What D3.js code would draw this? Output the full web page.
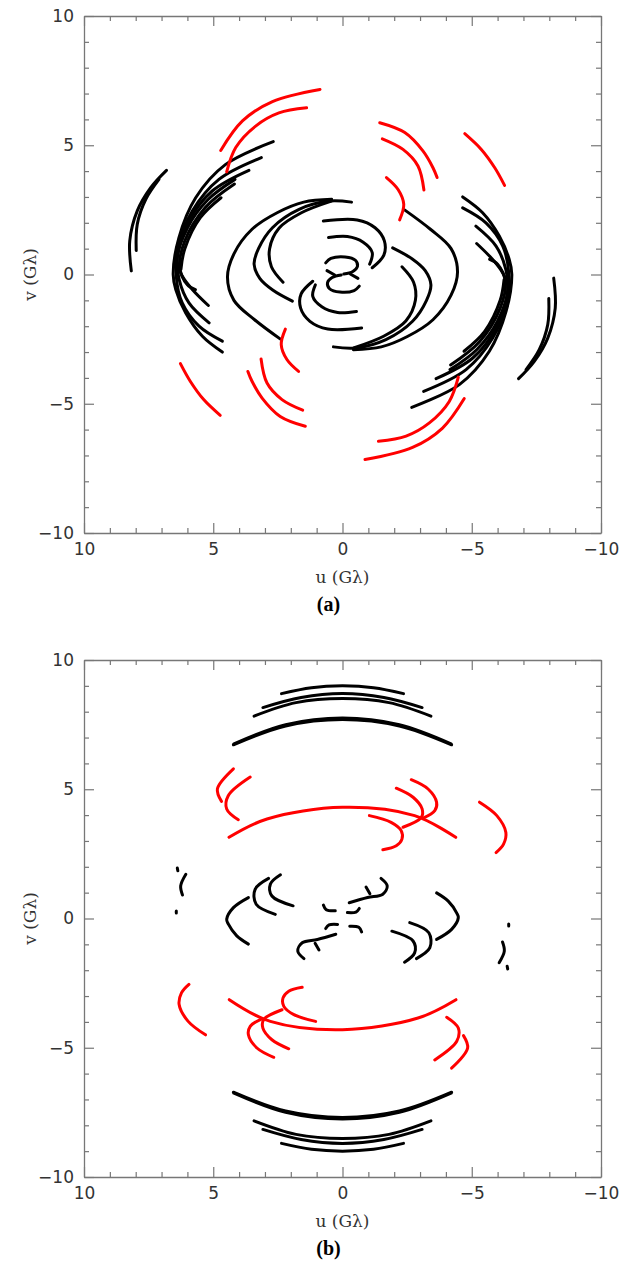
<!DOCTYPE html>
<html>
<head>
<meta charset="utf-8">
<script src="https://cdn.jsdelivr.net/npm/d3@7"></script>
<style>
  body { margin: 0; background: #fff; }
  svg { display: block; }
</style>
</head>
<body>
<script>
// uv tracks, in G-lambda. Each track is drawn together with its conjugate (-u,-v).
const majorTicks = [10, 5, 0, -5, -10];
const minorTicks = [9, 8, 7, 6, 4, 3, 2, 1, -1, -2, -3, -4, -6, -7, -8, -9];

// panel (a)
const aBlack = [
  [[8.17, 0.14], [8.23, 1.30], [7.94, 2.46], [7.42, 3.36], [6.81, 4.03]],
  [[7.98, 0.93], [7.94, 1.94], [7.61, 2.91], [7.10, 3.68]],
  [[2.68, 5.14], [4.52, 4.26], [5.68, 2.97], [6.33, 1.42], [6.55, 0.0], [6.45, -0.58], [6.07, -1.48], [5.42, -2.39], [4.65, -3.00]],
  [[3.14, 4.52], [4.78, 3.68], [5.81, 2.46], [6.33, 1.17], [6.43, -0.06], [6.20, -1.10], [5.55, -2.00], [4.65, -2.58]],
  [[3.62, 4.03], [5.04, 3.23], [5.94, 2.07], [6.39, 0.65], [6.32, -0.19], [5.94, -1.10], [5.16, -1.87]],
  [[4.16, 3.68], [5.20, 2.90], [6.00, 1.80], [6.40, 0.50], [6.20, -0.06], [5.81, -0.58], [5.19, -1.20]],
  [[4.18, 3.50], [5.30, 2.60], [6.10, 1.30], [6.30, 0.30], [6.00, -0.40], [5.69, -0.59]],
  [[4.70, 2.97], [5.50, 2.20], [6.10, 1.00], [6.25, 0.20]],
  [[0.42, 2.91], [1.50, 2.80], [2.51, 2.40], [3.50, 1.75], [4.20, 0.80], [4.45, -0.10], [4.20, -1.00], [3.40, -1.75], [2.40, -2.50]],
  [[-0.35, 2.80], [0.52, 2.84], [1.68, 2.52], [2.71, 1.81], [3.25, 1.00], [3.42, 0.40], [3.20, -0.15], [2.70, -0.60], [1.94, -1.03]],
  [[0.43, 2.84], [1.59, 2.39], [2.45, 1.80], [2.82, 1.00], [2.75, 0.30], [2.30, -0.30]],
  [[0.74, 2.07], [-0.57, 2.11], [-1.26, 1.81], [-1.62, 1.30], [-1.60, 0.75], [-1.15, 0.26]],
  [[0.54, 1.43], [-0.19, 1.47], [-0.80, 1.25], [-1.15, 0.85], [-1.05, 0.40]],
  [[0.65, 0.45], [0.45, 0.62], [-0.10, 0.68], [-0.50, 0.55], [-0.58, 0.32], [-0.40, 0.12], [-0.05, 0.02]],
  [[0.60, 0.15], [0.30, -0.02]]
];
const aRed = [
  [[4.71, 4.80], [3.87, 5.94], [2.71, 6.69], [0.87, 7.16]],
  [[4.48, 3.97], [4.13, 4.91], [3.36, 5.74], [2.46, 6.25], [1.39, 6.45]],
  [[-1.44, 5.87], [-2.41, 5.49], [-3.11, 4.78], [-3.50, 4.13], [-3.66, 3.75]],
  [[-1.54, 5.25], [-2.34, 4.84], [-2.92, 4.20], [-3.15, 3.27]],
  [[-1.70, 3.75], [-2.15, 3.29], [-2.37, 2.71], [-2.21, 2.11]],
  [[-4.73, 5.45], [-5.37, 4.84], [-5.89, 4.13], [-6.27, 3.45]]
];

// panel (b)
const bBlack = [
  [[2.36, 8.70], [1.20, 8.93], [0.0, 9.00], [-1.20, 8.93], [-2.36, 8.70]],
  [[3.08, 8.16], [1.60, 8.55], [0.0, 8.70], [-1.60, 8.55], [-3.08, 8.16]],
  [[3.42, 7.83], [1.80, 8.35], [0.0, 8.51], [-1.80, 8.35], [-3.42, 7.83]],
  [[4.22, 6.72], [2.20, 7.45], [0.0, 7.70], [-2.20, 7.45], [-4.22, 6.72]],
  [[4.20, 6.76], [2.20, 7.50], [0.0, 7.76], [-2.20, 7.50], [-4.20, 6.76]],
  [[6.39, 1.95], [6.37, 1.85]],
  [[6.06, 1.71], [6.26, 1.26], [6.19, 0.91]],
  [[6.43, 0.29], [6.43, 0.21]],
  [[2.40, 1.69], [2.79, 1.33], [2.73, 0.87], [1.91, 0.49]],
  [[2.86, 1.55], [3.38, 1.13], [3.34, 0.55], [2.60, 0.16]],
  [[3.64, 0.81], [4.22, 0.42], [4.48, -0.03], [4.42, -0.21], [4.09, -0.67], [3.64, -0.99]],
  [[-1.49, 1.55], [-1.73, 1.26], [-1.56, 0.94], [-0.97, 0.81], [-0.26, 0.61]],
  [[-0.91, 1.22], [-1.06, 0.96]],
  [[0.74, 0.52], [0.63, 0.34], [0.28, 0.30]],
  [[-0.19, 0.23], [-0.52, 0.25], [-0.65, 0.39]]
];
const bRed = [
  [[4.39, 3.14], [2.92, 3.85], [0.0, 4.30], [-2.79, 3.98], [-4.38, 3.14]],
  [[4.22, 5.79], [4.84, 5.01], [4.68, 4.53]],
  [[3.57, 5.47], [4.42, 4.75], [4.48, 4.24], [4.03, 3.82]],
  [[-2.66, 5.37], [-3.31, 5.01], [-3.64, 4.50], [-3.57, 4.17], [-3.12, 3.88]],
  [[-2.08, 5.04], [-2.73, 4.69], [-3.08, 4.24], [-3.05, 3.91], [-2.34, 3.53]],
  [[-1.04, 3.98], [-1.88, 3.72], [-2.27, 3.40], [-2.30, 3.07], [-2.08, 2.81], [-1.56, 2.66]],
  [[-5.30, 4.50], [-5.97, 3.98], [-6.32, 3.33], [-6.23, 2.88], [-5.94, 2.55]]
];

const panels = [
  { top: 16, label: "(a)", black: aBlack, red: aRed },
  { top: 660, label: "(b)", black: bBlack, red: bRed }
];

const width = 624, height = 1267;
const left = 84, right = 601, size = 517;
const fontTick = "'DejaVu Sans', sans-serif";
const fontLab = "'DejaVu Serif', serif";

const svg = d3.select("body").append("svg")
    .attr("width", width)
    .attr("height", height);

const fmt = d3.format("d");

panels.forEach(p => {
  const x = d3.scaleLinear().domain([10, -10]).range([left, right]);
  const y = d3.scaleLinear().domain([-10, 10]).range([p.top + size, p.top]);
  const g = svg.append("g");

  const line = d3.line()
      .x(d => x(d[0]))
      .y(d => y(d[1]))
      .curve(d3.curveCatmullRom.alpha(0.5));

  // tracks and their conjugates
  const draw = (tracks, color) => {
    const all = tracks.concat(tracks.map(t => t.map(d => [-d[0], -d[1]])));
    g.append("g").selectAll("path")
      .data(all)
      .enter().append("path")
      .attr("d", line)
      .attr("fill", "none")
      .attr("stroke", color)
      .attr("stroke-width", 3)
      .attr("stroke-linecap", "round");
  };
  draw(p.black, "#000");
  draw(p.red, "#f00");

  // axes, ticks pointing inward on all four sides
  const axes = [
    [d3.axisBottom(x), `translate(0,${y(-10)})`, true],
    [d3.axisTop(x), `translate(0,${y(10)})`, false],
    [d3.axisLeft(y), `translate(${x(10)},0)`, true],
    [d3.axisRight(y), `translate(${x(-10)},0)`, false]
  ];
  axes.forEach(([ax, tr, labels]) => {
    const major = g.append("g").attr("transform", tr)
      .call(ax.tickValues(majorTicks).tickSize(-10).tickSizeOuter(0).tickPadding(10)
        .tickFormat(labels ? fmt : ""));
    major.selectAll(".tick text")
      .attr("font-family", fontTick)
      .attr("font-size", 17)
      .attr("fill", "#333");
    major.select(".domain").attr("stroke", "#777").attr("stroke-width", 1.3);
    major.selectAll(".tick line").attr("stroke", "#777").attr("stroke-width", 1.2);

    const minor = g.append("g").attr("transform", tr)
      .call(ax.tickValues(minorTicks).tickSize(-5).tickSizeOuter(0).tickFormat(""));
    minor.select(".domain").remove();
    minor.selectAll(".tick line").attr("stroke", "#777").attr("stroke-width", 1.2);
  });

  g.append("text")
    .attr("x", (left + right) / 2)
    .attr("y", p.top + size + 50)
    .attr("text-anchor", "middle")
    .attr("font-family", fontLab)
    .attr("font-size", 17)
    .attr("fill", "#333")
    .text("u (Gλ)");

  g.append("text")
    .attr("transform", `translate(36,${p.top + size / 2}) rotate(-90)`)
    .attr("text-anchor", "middle")
    .attr("font-family", fontLab)
    .attr("font-size", 17)
    .attr("fill", "#333")
    .text("v (Gλ)");

  g.append("text")
    .attr("x", (left + right) / 2 - 14)
    .attr("y", p.top + size + 78)
    .attr("text-anchor", "middle")
    .attr("font-family", "'Liberation Serif', serif")
    .attr("font-weight", "bold")
    .attr("font-size", 20)
    .attr("fill", "#000")
    .text(p.label);
});
</script>
</body>
</html>
